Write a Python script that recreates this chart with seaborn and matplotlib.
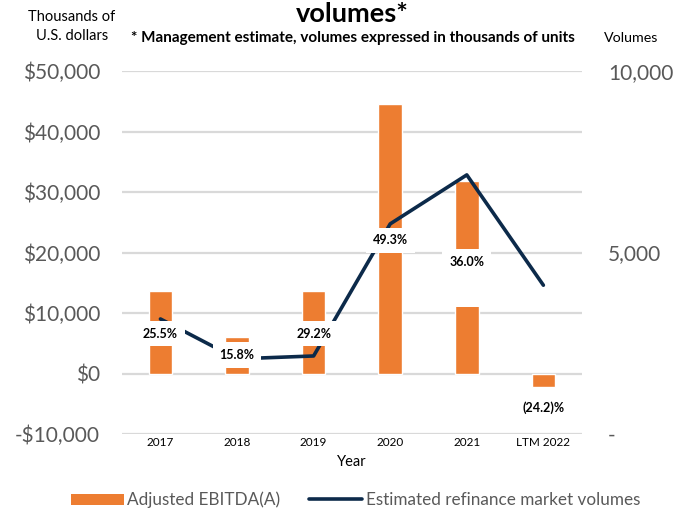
import matplotlib
matplotlib.use("Agg")
import matplotlib.pyplot as plt
import seaborn as sns
from matplotlib.patches import Patch
from matplotlib.lines import Line2D
from matplotlib.ticker import FuncFormatter

# dati
anni = ["2017", "2018", "2019", "2020", "2021", "LTM 2022"]
ebitda = [13700, 6100, 13700, 44500, 31800, -2300]
volumi = [3170, 2070, 2150, 5790, 7140, 4100]
crescita = ["25.5%", "15.8%", "29.2%", "49.3%", "36.0%", "(24.2)%"]
# posizione verticale delle etichette (asse sinistro)
y_etichette = [6600, 3000, 6600, 22000, 19400, -5600]

ARANCIO = "#ED7D31"
BLU = "#0C2A4A"
GRIGIO = "#595959"

sns.set_theme(style="white")
plt.rcParams["font.family"] = ["Lato", "DejaVu Sans"]

fig = plt.figure(figsize=(6.9, 5.08), dpi=100)
ax1 = fig.add_axes([0.177, 0.1457, 0.666, 0.7143])

# --- barre EBITDA ---
sns.barplot(x=anni, y=ebitda, ax=ax1, color=ARANCIO, width=0.31, saturation=1, zorder=2)
ax1.set_ylim(-10000, 50000)
ax1.set_xlim(-0.5, 5.5)
ax1.set_yticks(range(-10000, 50001, 10000))
ax1.yaxis.set_major_formatter(FuncFormatter(lambda v, p: f"${v:,.0f}" if v >= 0 else f"-${-v:,.0f}"))
ax1.grid(axis="y", color="#D9D9D9", linewidth=1.6, zorder=0)
ax1.set_axisbelow(True)
for s in ax1.spines.values():
    s.set_visible(False)
ax1.tick_params(axis="y", labelsize=15, labelcolor=GRIGIO, length=0, pad=16)
ax1.tick_params(axis="x", labelsize=8.5, labelcolor="black", length=0, pad=2)
ax1.set_xlabel("Year", fontsize=10.5, color="black", labelpad=5)
ax1.set_ylabel("")

# --- linea volumi (asse destro) ---
ax2 = ax1.twinx()
sns.lineplot(x=anni, y=volumi, ax=ax2, color=BLU, linewidth=2.6, sort=False, zorder=3)
ax2.set_ylim(0, 10000)
ax2.set_yticks([0, 5000, 10000])
ax2.yaxis.set_major_formatter(FuncFormatter(lambda v, p: "-" if v == 0 else f"{v:,.0f}"))
for s in ax2.spines.values():
    s.set_visible(False)
ax2.tick_params(axis="y", labelsize=15, labelcolor=GRIGIO, length=0, pad=19)
ax2.set_ylabel("")

# --- etichette di crescita con box bianco (sopra la linea) ---
for i, (t, yv) in enumerate(zip(crescita, y_etichette)):
    testo = t + "\n\n" if t == "36.0%" else t
    va = "top" if t == "36.0%" else "center"
    ax2.text(i, yv, testo, ha="center", va=va, fontsize=9, fontweight="bold",
             color="black", zorder=10, transform=ax1.transData, linespacing=1.42,
             bbox=dict(facecolor="white", edgecolor="none", boxstyle="square,pad=0.55"))

# --- testi superiori ---
fig.text(0.51, 0.997, "volumes*", ha="center", va="top", fontsize=19.5, fontweight="bold", color="black")
fig.text(0.512, 0.925, "* Management estimate, volumes expressed in thousands of units",
         ha="center", va="center", fontsize=11, fontweight="bold", color="black")
fig.text(0.104, 0.947, "Thousands of\nU.S. dollars", ha="center", va="center", fontsize=10.5,
         color="black", linespacing=1.45)
fig.text(0.915, 0.925, "Volumes", ha="center", va="center", fontsize=10.3, color="black")

# --- legenda ---
maniglie = [Patch(facecolor=ARANCIO, edgecolor="none"),
            Line2D([0], [0], color=BLU, linewidth=2.6)]
leg = fig.legend(maniglie, ["Adjusted EBITDA(A)", "Estimated refinance market volumes"],
                 loc="center", bbox_to_anchor=(0.515, 0.016), ncol=2, frameon=False,
                 fontsize=12.3, handlelength=3.1, handleheight=0.6, columnspacing=1.7,
                 handletextpad=0.2)
for t in leg.get_texts():
    t.set_color(GRIGIO)

fig.savefig("out.png", dpi=100)
